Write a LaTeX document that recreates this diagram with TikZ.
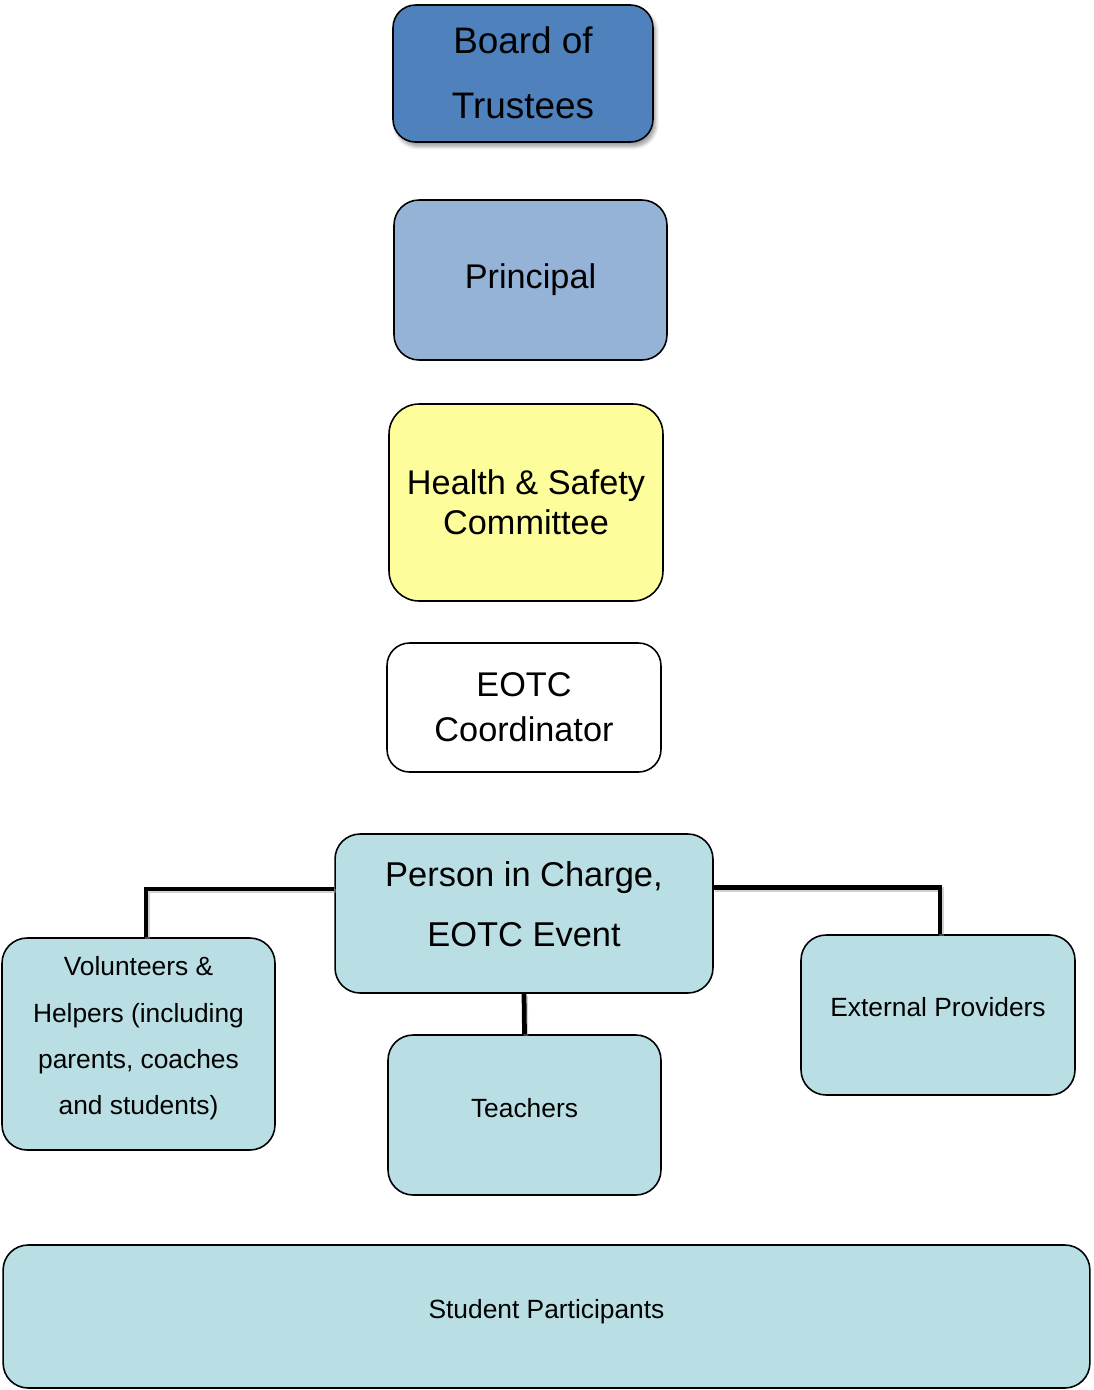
\documentclass[tikz,border=0pt]{standalone}
\usepackage{fontspec}
\setmainfont{Liberation Sans}
\usetikzlibrary{shadows.blur}
\definecolor{boardblue}{HTML}{4F81BD}
\definecolor{principalblue}{HTML}{95B3D7}
\definecolor{hsyellow}{HTML}{FDFD9B}
\definecolor{eventaqua}{HTML}{B9DFE4}
\definecolor{shadowgray}{HTML}{9A9A9A}

\tikzset{
  orgbox/.style={draw=black,line width=0.9pt,rounded corners=0.5cm,
                 align=center,inner sep=2pt},
  bigtext/.style={font=\fontsize{19.5}{#1}\selectfont},
  smalltext/.style={font=\fontsize{15}{#1}\selectfont},
  lift/.style={text depth=#1},
  link/.style={line width=2.7pt,
               preaction={draw=shadowgray,opacity=0.45,line width=2.7pt,
                          transform canvas={xshift=0.8pt,yshift=-1.2pt}}}
}

\begin{document}
\begin{tikzpicture}[x=0.02cm,y=-0.02cm]
\useasboundingbox (0,0) rectangle (1093,1390);

% upper chain of responsibility
\node[orgbox,fill=boardblue,font=\fontsize{21}{36.5}\selectfont,lift=1pt,
      minimum width=5.2cm,minimum height=2.74cm,rounded corners=0.45cm,
      blur shadow={shadow xshift=1.5pt,shadow yshift=-2.5pt,shadow blur steps=6}]
      (board) at (523,73.5) {Board of\\Trustees};
\node[orgbox,fill=principalblue,bigtext=24,minimum width=5.46cm,minimum height=3.2cm]
      (principal) at (530.5,280) {Principal};
\node[orgbox,fill=hsyellow,bigtext=22.7,minimum width=5.48cm,minimum height=3.94cm,
      rounded corners=0.6cm]
      (hsc) at (526,502.5) {Health \& Safety\\Committee};
\node[orgbox,fill=white,bigtext=25.5,minimum width=5.48cm,minimum height=2.58cm,
      rounded corners=0.45cm]
      (eotc) at (524,707.5) {EOTC\\Coordinator};

% event level
\node[orgbox,fill=eventaqua,font=\fontsize{19.6}{34}\selectfont,lift=10.5pt,
      minimum width=7.56cm,minimum height=3.18cm]
      (pic) at (524,913.5) {Person in Charge,\\EOTC Event};
\node[orgbox,fill=eventaqua,smalltext=26.3,lift=9.5pt,
      minimum width=5.46cm,minimum height=4.24cm]
      (vol) at (138.5,1044) {Volunteers \&\\Helpers (including\\parents, coaches\\and students)};
\node[orgbox,fill=eventaqua,smalltext=18,lift=8pt,
      minimum width=5.46cm,minimum height=3.2cm]
      (teach) at (524.5,1115) {Teachers};
\node[orgbox,fill=eventaqua,smalltext=18,lift=9pt,
      minimum width=5.48cm,minimum height=3.2cm]
      (ext) at (938,1015) {External Providers};
\node[orgbox,fill=eventaqua,font=\fontsize{15}{18}\selectfont,lift=9pt,
      minimum width=21.74cm,minimum height=2.86cm]
      (students) at (546.5,1316.5) {Student Participants};

% connectors from the person in charge
\draw[link] (pic.west) ++(0,-24.5) -| ([xshift=0.15cm]vol.north);
\draw[link] (pic.east) ++(0,-26) -| ([xshift=0.04cm]ext.north);
\draw[link] (pic.south) -- (teach.north);

\end{tikzpicture}
\end{document}
